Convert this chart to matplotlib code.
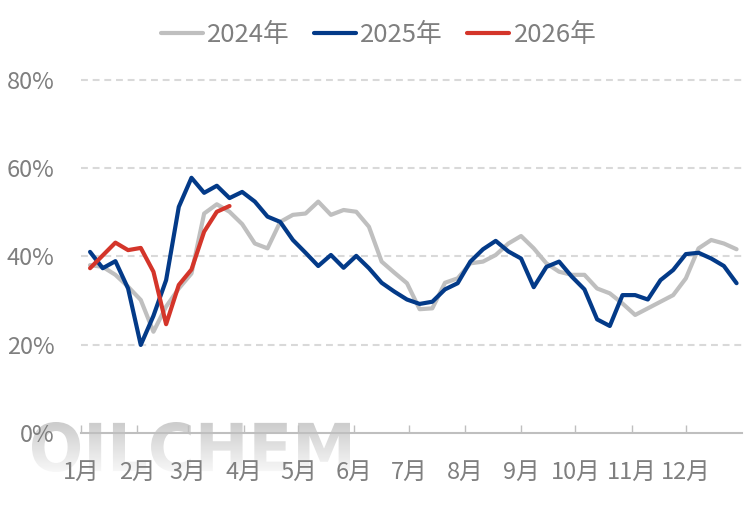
import numpy as np
import matplotlib
matplotlib.use("Agg")
import matplotlib.pyplot as plt
from matplotlib.textpath import TextPath
from matplotlib.patches import PathPatch
from matplotlib.font_manager import FontProperties
from matplotlib.transforms import Affine2D

plt.rcParams['font.family'] = ['Noto Sans CJK SC', 'DejaVu Sans']

# weekly values (%)
y2024 = [38.0, 37.6, 35.8, 33.1, 30.1, 22.9, 28.6, 32.7, 36.1, 49.7,
         51.8, 50.1, 47.3, 42.9, 41.8, 47.8, 49.4, 49.7, 52.4, 49.4,
         50.5, 50.1, 46.7, 38.8, 36.3, 33.9, 28.0, 28.2, 34.0, 35.0,
         38.4, 38.8, 40.3, 42.9, 44.6, 41.8, 38.4, 36.5, 35.8, 35.8,
         32.7, 31.6, 29.3, 26.7, 28.2, 29.7, 31.2, 35.0, 41.8, 43.7,
         42.9, 41.6]
y2025 = [41.0, 37.3, 38.9, 32.7, 19.9, 26.5, 34.6, 51.2, 57.8, 54.4,
         56.0, 53.2, 54.6, 52.4, 49.0, 47.8, 43.7, 40.8, 37.8, 40.3,
         37.4, 40.1, 37.3, 34.0, 32.0, 30.2, 29.2, 29.7, 32.5, 33.9,
         38.8, 41.6, 43.5, 41.1, 39.5, 33.0, 37.6, 38.8, 35.4, 32.5,
         25.7, 24.2, 31.2, 31.2, 30.2, 34.6, 36.9, 40.5, 40.8, 39.5,
         37.8, 33.9]
y2026 = [37.3, 40.2, 43.1, 41.4, 41.9, 36.5, 24.6, 33.5, 37.0, 45.6,
         50.1, 51.4]

series_names = ['2024年', '2025年', '2026年']
series_colors = ['#BFBFBF', '#033A88', '#D4352A']

months = ['1月', '2月', '3月', '4月', '5月', '6月', '7月', '8月', '9月',
          '10月', '11月', '12月']
month_days = [31, 28, 31, 30, 31, 30, 31, 31, 30, 31, 30, 31]
yticks = [0, 20, 40, 60, 80]
ytick_labels = ['0%', '20%', '40%', '60%', '80%']

text_col = '#7F7F7F'
W, H = 751, 521

fig = plt.figure(figsize=(W / 100, H / 100), dpi=100)

# background axes for the watermark
bg = fig.add_axes([0, 0, 1, 1])
bg.set_xlim(0, W)
bg.set_ylim(0, H)
bg.axis('off')
bg.set_zorder(0)

tp = TextPath((0, 0), "OILCHEM", size=100,
              prop=FontProperties(family='DejaVu Sans', weight='bold'))
ext = tp.get_extents()
x0, x1, ytop, ybot = 32, 350, H - 422, H - 472
tr = Affine2D().translate(-ext.x0, -ext.y0).scale(
    (x1 - x0) / ext.width, (ytop - ybot) / ext.height).translate(x0, ybot)
wm_path = tr.transform_path(tp)
patch = PathPatch(wm_path, transform=bg.transData, fc='none', ec='none')
bg.add_patch(patch)
g = np.linspace(0.80, 0.97, 100).reshape(-1, 1)
grad = np.dstack([g, g, g])
im = bg.imshow(grad, extent=[x0, x1, ybot, ytop], origin='upper',
               aspect='auto', interpolation='bilinear')
im.set_clip_path(patch)

# main axes
ymax = 81
px_per_pct = 4.41
ax_bottom = H - 432.7
ax_h = ymax * px_per_pct
ax = fig.add_axes([81 / W, ax_bottom / H, (742 - 81) / W, ax_h / H])
ax.set_zorder(1)
ax.patch.set_visible(False)

lines = []
for vals, name, col in zip([y2024, y2025, y2026], series_names, series_colors):
    x = 5 + 7 * np.arange(len(vals))
    ln, = ax.plot(x, vals, color=col, lw=3.0, label=name,
                  solid_capstyle='round', solid_joinstyle='round')
    lines.append(ln)

ax.set_xlim(0, 365)
ax.set_ylim(0, ymax)

month_starts = np.concatenate([[0], np.cumsum(month_days)[:-1]])
ax.set_xticks(month_starts)
ax.set_xticklabels(months)
ax.set_yticks(yticks)
ax.set_yticklabels(ytick_labels)

ax.tick_params(axis='x', direction='in', length=6, width=1,
               color='#BFBFBF', pad=20, labelsize=17, labelcolor=text_col)
ax.tick_params(axis='y', length=0, pad=19, labelsize=17, labelcolor=text_col)

for s in ['top', 'right', 'left']:
    ax.spines[s].set_visible(False)
ax.spines['bottom'].set_color('#BFBFBF')
ax.spines['bottom'].set_linewidth(1.5)

for v in yticks[1:]:
    ax.axhline(v, color='#D9D9D9', lw=1.5, ls=(0, (3.3, 2.3)), zorder=0)

fig.legend(handles=lines, loc='center', bbox_to_anchor=(0.504, 0.933),
           ncol=3, frameon=False, fontsize=18.5, labelcolor=text_col,
           handlelength=1.65, handletextpad=0.17, columnspacing=0.92,
           borderpad=0)

fig.savefig('out.png', dpi=100)
